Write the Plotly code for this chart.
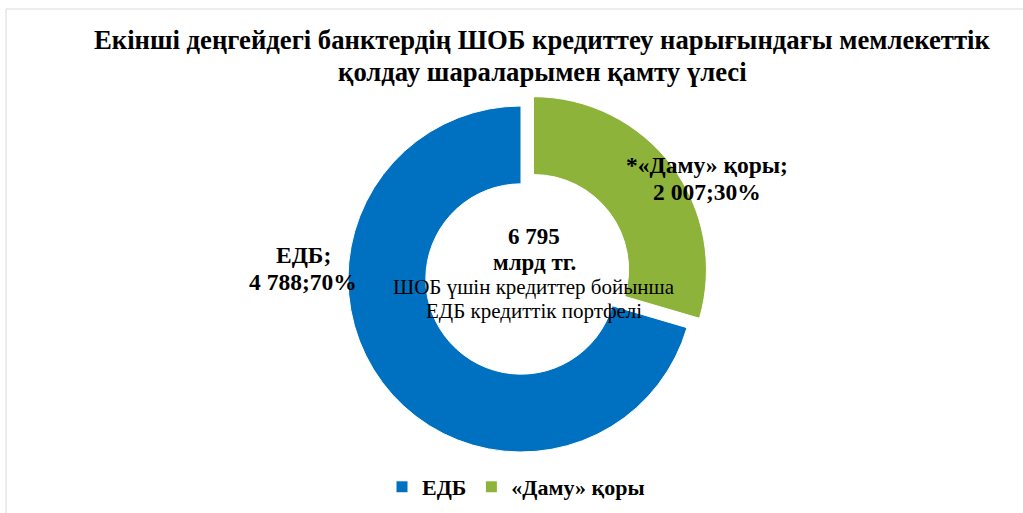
import plotly.graph_objects as go

# ---- data ----
categories = ["ЕДБ", "«Даму» қоры"]
values = [4788, 2007]
label_prefixes = ["ЕДБ;", "*«Даму» қоры;"]
colors = ["#0070C0", "#8DB33A"]
center_unit = "млрд тг."
center_caption = ["ШОБ үшін кредиттер бойынша", "ЕДБ кредиттік портфелі"]
title_lines = ["Екінші деңгейдегі банктердің ШОБ кредиттеу нарығындағы мемлекеттік",
               "қолдау шараларымен қамту үлесі"]

W, H = 1023, 513
FONT = "Liberation Serif, Times New Roman, serif"


def fmt(v):
    return f"{v:,}".replace(",", " ")


def px(x):
    return x / W


def py(y):
    return 1 - y / H


total = sum(values)
shares = [round(v / total * 100) for v in values]

# pie geometry (pixels)
cx, cy, r_out, pull = 521, 279, 173, 0.09
half = r_out * (1 + pull)
# start the first (blue) slice where the green one ends, so green sits at 12 o'clock → right
start_angle = 360 * values[1] / total

fig = go.Figure(go.Pie(
    labels=categories,
    values=values,
    hole=0.55,
    sort=False,
    direction="clockwise",
    rotation=start_angle,
    pull=[0, pull],
    marker=dict(colors=colors, line=dict(color="white", width=1)),
    textinfo="none",
    hoverinfo="label+value+percent",
    domain=dict(x=[px(cx - half), px(cx + half)], y=[py(cy + half), py(cy - half)]),
))


def ann(x, y, text, size, bold=True):
    return dict(x=px(x), y=py(y), xref="paper", yref="paper",
                xanchor="center", yanchor="middle",
                text=("<b>" + text + "</b>") if bold else text, showarrow=False,
                font=dict(family=FONT, size=size, color="black"))


annotations = [
    ann(542, 40, title_lines[0], 26.7),
    ann(542, 72, title_lines[1], 26.7),
]

# slice labels
label_pos = [(303, 255, 282), (707, 165, 192)]
for i, (lx, ly1, ly2) in enumerate(label_pos):
    annotations.append(ann(lx, ly1, label_prefixes[i], 23.5))
    annotations.append(ann(lx, ly2, f"{fmt(values[i])};{shares[i]}%", 23.5))

# center text
annotations += [
    ann(534, 236, fmt(total), 23),
    ann(534, 262, center_unit, 23),
    ann(534, 287, center_caption[0], 21, bold=False),
    ann(534, 311, center_caption[1], 21, bold=False),
]

shapes = [
    dict(type="line", xref="paper", yref="paper", x0=px(6), x1=1, y0=py(9), y1=py(9),
         line=dict(color="#d9d9d9", width=1)),
    dict(type="line", xref="paper", yref="paper", x0=px(6), x1=px(6), y0=py(9), y1=0,
         line=dict(color="#d9d9d9", width=1)),
]

fig.update_layout(
    width=W, height=H,
    margin=dict(l=0, r=0, t=0, b=0),
    paper_bgcolor="white", plot_bgcolor="white",
    showlegend=True,
    legend=dict(orientation="h", x=px(516), xanchor="center", y=py(487), yanchor="middle",
                font=dict(family=FONT, size=22, color="black", weight="bold"),
                itemwidth=30, traceorder="normal"),
    annotations=annotations,
    shapes=shapes,
)

fig.write_html("out.html", config={"displayModeBar": False},
               post_script="document.body.style.margin='0';")
